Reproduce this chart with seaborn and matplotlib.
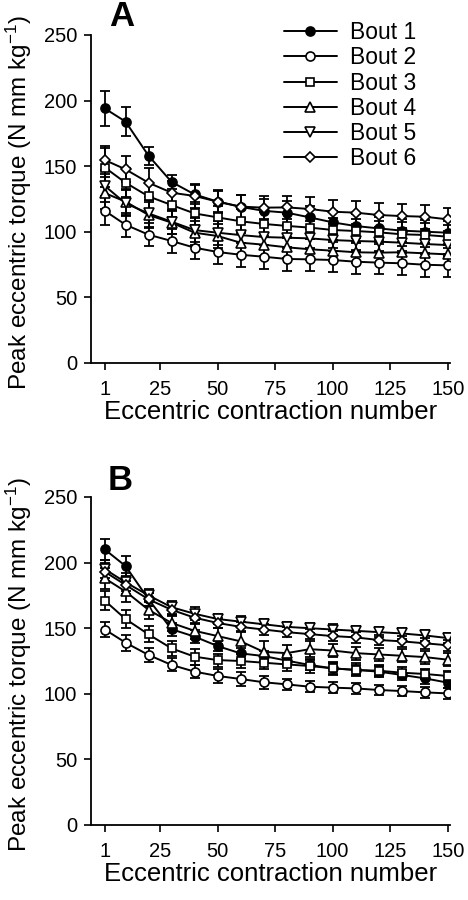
import numpy as np
import pandas as pd
import matplotlib
matplotlib.use("Agg")
import matplotlib.pyplot as plt
import seaborn as sns

# contraction numbers where torque was sampled
contraction = [1, 10, 20, 30, 40, 50, 60, 70, 80, 90, 100, 110, 120, 130, 140, 150]
bouts = ["Bout 1", "Bout 2", "Bout 3", "Bout 4", "Bout 5", "Bout 6"]

# panel A means
a_bout1 = [194, 184, 158, 138, 128.5, 123, 119, 116, 114.6, 111, 107.2, 104.4, 102.6, 100.9, 100.1, 99.3]
a_bout2 = [116, 105.4, 97.8, 93, 87.9, 84.6, 82.5, 81, 79.3, 79, 78.5, 77.2, 76.5, 76, 74.9, 74.4]
a_bout3 = [149, 137.4, 127, 120.4, 114, 111, 108, 106, 104.5, 103.2, 101.4, 100.6, 99.6, 98.1, 97.6, 96.3]
a_bout4 = [129.5, 123, 112.8, 107, 99.3, 96.8, 91.7, 90.2, 88.2, 86.7, 85.6, 84.4, 84.1, 84.4, 83.6, 82.8]
a_bout5 = [135, 121.7, 114, 107.7, 101.3, 99.3, 97.5, 96, 95.5, 95, 93.7, 93, 92.5, 91.7, 90.7, 89.9]
a_bout6 = [154.7, 147.6, 137.4, 129.8, 127.3, 123, 119.2, 118.4, 118.6, 117.4, 115.3, 114.6, 112.8, 112, 111.5, 109.5]

# panel A standard errors
a_se1 = [13, 11, 7, 5, 7, 8, 9, 9, 9, 9, 9, 9, 9, 9, 9, 9]
a_se2 = [11, 9, 9, 9, 9, 9, 9, 9, 9, 9, 9, 9, 9, 9, 9, 9]
a_se3 = [15, 11, 10, 9, 9, 9, 9, 9, 9, 9, 9, 9, 9, 9, 9, 9]
a_se4 = [12, 10, 10, 9, 9, 9, 9, 9, 8, 8, 8, 8, 8, 8, 8, 8]
a_se5 = [12, 10, 10, 9, 9, 9, 9, 9, 8, 8, 8, 8, 8, 8, 8, 8]
a_se6 = [11, 10, 11, 9, 9, 9, 9, 9, 9, 9, 9, 9, 9, 9, 9, 9]

# panel B means
b_bout1 = [210, 197.4, 172, 149.2, 143.6, 136.4, 130.8, 128.8, 125.3, 122, 119.4, 118.2, 116.9, 114.4, 111.8, 108.5]
b_bout2 = [149, 139, 129.6, 122, 116.9, 113.6, 111.3, 108.8, 107.2, 105.4, 104.7, 104.1, 102.9, 102.1, 101.1, 100.3]
b_bout3 = [171, 157, 145.3, 134.6, 128.3, 125.7, 125, 123.7, 122.4, 121.2, 119.4, 118.2, 117.6, 116.1, 115.1, 113.6]
b_bout4 = [188, 178, 164, 154, 148, 144, 140, 132, 131, 134, 133, 131, 130, 129, 128, 126]
b_bout5 = [195, 185, 175, 166, 161, 157, 155, 153, 151, 150, 149, 148, 147, 146, 144.5, 142.5]
b_bout6 = [193, 183, 172, 164, 158, 154, 151, 149, 147, 145.5, 144, 143, 141, 140, 138.5, 137]

# panel B standard errors
b_se1 = [8, 8, 5, 5, 5, 4, 4, 4, 4, 4, 4, 4, 4, 4, 4, 4]
b_se2 = [6, 6, 5, 5, 5, 5, 5, 5, 4, 4, 4, 4, 4, 4, 4, 4]
b_se3 = [7, 7, 6, 6, 6, 5, 5, 5, 5, 5, 5, 5, 4, 4, 4, 4]
b_se4 = [8, 8, 7, 6, 6, 6, 8, 8, 6, 6, 5, 5, 5, 5, 5, 5]
b_se5 = [7, 7, 5, 5, 5, 4, 4, 4, 4, 4, 4, 4, 4, 4, 4, 4]
b_se6 = [7, 7, 5, 5, 5, 4, 4, 4, 4, 4, 4, 4, 4, 4, 4, 4]

markers = ["o", "o", "s", "^", "v", "D"]
faces = ["black", "white", "white", "white", "white", "white"]
msizes = [6.5, 6.5, 6, 6.5, 6.5, 5.5]

sns.set_style("ticks")
plt.rcParams["font.family"] = ["Liberation Sans", "DejaVu Sans"]
plt.rcParams["mathtext.default"] = "regular"
plt.rcParams["text.color"] = "black"
plt.rcParams["axes.labelcolor"] = "black"

fig = plt.figure(figsize=(4.68, 9), dpi=100)
ax_a = fig.add_axes([91 / 468, 1 - 363 / 900, 359 / 468, 328 / 900])
ax_b = fig.add_axes([91 / 468, 1 - 825 / 900, 359 / 468, 328 / 900])

panels = [
    (ax_a, [a_bout1, a_bout2, a_bout3, a_bout4, a_bout5, a_bout6], [a_se1, a_se2, a_se3, a_se4, a_se5, a_se6]),
    (ax_b, [b_bout1, b_bout2, b_bout3, b_bout4, b_bout5, b_bout6], [b_se1, b_se2, b_se3, b_se4, b_se5, b_se6]),
]

for ax, means, ses in panels:
    for i, name in enumerate(bouts):
        ax.errorbar(contraction, means[i], yerr=ses[i], fmt="none", ecolor="black",
                    elinewidth=1.3, capsize=3.3, capthick=1.3, zorder=2)
        df = pd.DataFrame({"x": contraction, "y": means[i]})
        sns.lineplot(data=df, x="x", y="y", ax=ax, color="black", linewidth=1.4,
                     marker=markers[i], markersize=msizes[i], markerfacecolor=faces[i],
                     markeredgecolor="black", markeredgewidth=1.2, label=name, zorder=3)
    ax.set_xlim(-5, 151)
    ax.set_ylim(0, 250)
    ax.set_xticks([1, 25, 50, 75, 100, 125, 150])
    ax.set_yticks([0, 50, 100, 150, 200, 250])
    ax.tick_params(axis="both", labelsize=14.5, length=5, width=1.2, color="black", labelcolor="black")
    ax.tick_params(axis="x", pad=7)
    ax.tick_params(axis="y", pad=5)
    ax.set_xlabel("Eccentric contraction number", fontsize=18.5, labelpad=1)
    ax.set_ylabel("Peak eccentric torque (N mm kg$^{-1}$)", fontsize=17.5)
    ax.yaxis.set_label_coords(-0.16, 0.49)
    for side in ["top", "right"]:
        ax.spines[side].set_visible(False)
    for side in ["left", "bottom"]:
        ax.spines[side].set_linewidth(1.3)
        ax.spines[side].set_color("black")
    ax.get_legend().remove()

handles, labels = ax_a.get_legend_handles_labels()
fig.legend(handles, labels, loc="upper left", bbox_to_anchor=(284 / 468, 1 - 21 / 900),
           frameon=False, fontsize=16.5, handlelength=2.3, handletextpad=0.6,
           labelspacing=0.1, borderpad=0, borderaxespad=0)

fig.text(122 / 468, 1 - 17 / 900, "A", fontsize=25, fontweight="bold", ha="center", va="center")
fig.text(120 / 468, 1 - 480 / 900, "B", fontsize=25, fontweight="bold", ha="center", va="center")

fig.savefig("out.png", dpi=100)
